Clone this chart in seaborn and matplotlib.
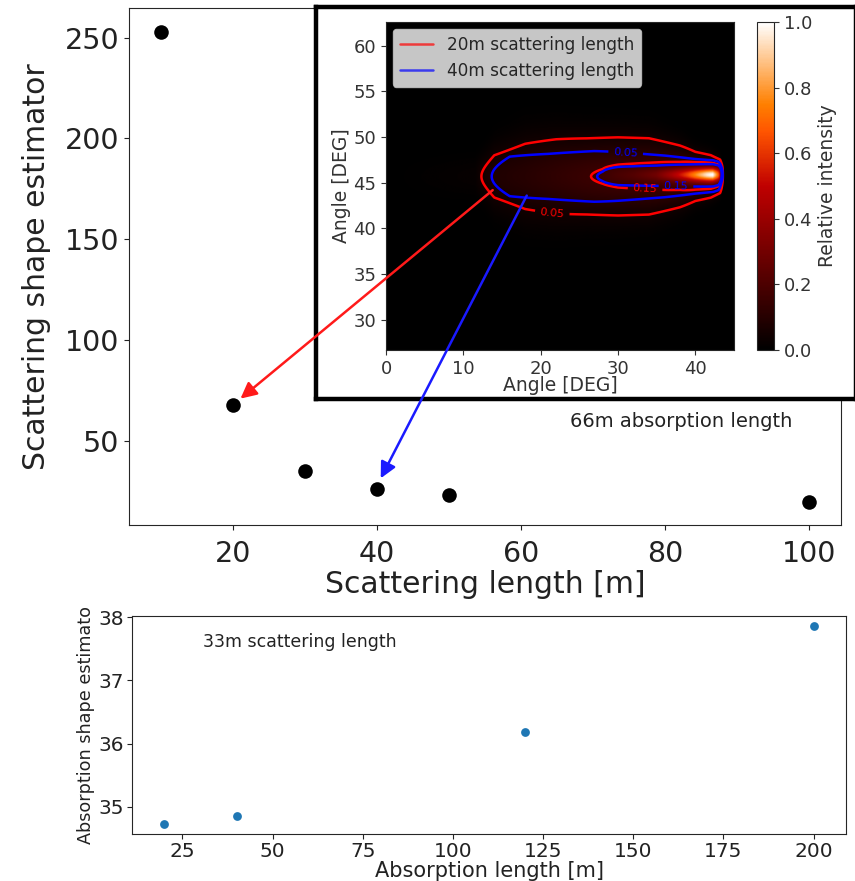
import numpy as np
import matplotlib
matplotlib.use("Agg")
import matplotlib.pyplot as plt
import seaborn as sns
from matplotlib.patches import ConnectionPatch
from matplotlib.lines import Line2D

# ---- data ----
scat_len = [10, 20, 30, 40, 50, 100]
scat_shape = [253, 68, 35, 26, 23, 20]

abs_len = [20, 40, 120, 200]
abs_shape = [34.73, 34.85, 36.18, 37.86]

# inset: angular intensity maps, described by halo amplitude / width along x
halo20_x = [0, 11.5, 12.3, 14, 18, 22, 26, 30, 34, 38, 40, 42, 43.2, 43.6, 45]
halo20_amp = [0, 0.02, 0.05, 0.084, 0.103, 0.127, 0.15, 0.167, 0.174, 0.195, 0.233, 0.25, 0.2, 0.0, 0.0]
halo20_sig = [1.5, 1.5, 1.6, 2.3, 3.0, 3.0, 2.83, 2.77, 2.66, 2.06, 1.54, 1.3, 1.1, 1.0, 1.0]
halo20_yc = 45.7

halo40_x = [0, 13.0, 13.6, 16, 21, 26.9, 30, 36, 40, 42.3, 43.0, 43.4, 45]
halo40_amp = [0, 0.025, 0.05, 0.092, 0.119, 0.15, 0.178, 0.193, 0.227, 0.25, 0.2, 0.0, 0.0]
halo40_sig = [1.5, 1.5, 1.6, 2.0, 1.9, 1.89, 1.69, 1.40, 1.09, 0.95, 0.9, 0.9, 0.9]
halo40_yc = 45.7

core_x = [0, 28, 32, 35, 37, 39, 40.5, 41.5, 42.3, 43.0, 43.6, 45]
core_amp = [0, 0, 0.05, 0.12, 0.25, 0.42, 0.6, 0.72, 0.78, 0.5, 0.0, 0.0]
core_sig = 0.5
core_yc = 45.9

levels = [0.05, 0.15]
legend_labels = ["20m scattering length", "40m scattering length"]

sns.set_style("ticks")
plt.rcParams['font.family'] = ['DejaVu Sans']

fig = plt.figure(figsize=(8.55, 8.81), dpi=100)
W, H = 855.0, 881.0

def fax(l, t, r, b, **kw):
    return fig.add_axes([l / W, 1 - b / H, (r - l) / W, (b - t) / H], **kw)

# ---- main axes ----
ax_main = fax(129, 8, 841, 525)
sns.scatterplot(x=scat_len, y=scat_shape, color='black', s=110, linewidth=0, ax=ax_main, zorder=3)
ax_main.set_xticks([20, 40, 60, 80, 100])
ax_main.set_yticks([50, 100, 150, 200, 250])
ax_main.tick_params(labelsize=20.5, colors='#222222')
ax_main.tick_params(axis='x', pad=7)
ax_main.set_xlabel("Scattering length [m]", fontsize=21.5, color='#222222', labelpad=2)
ax_main.set_ylabel("Scattering shape estimator", fontsize=21.5, color='#222222', labelpad=10)
ax_main.text(82.3, 59.5, "66m absorption length", ha='center', va='center', fontsize=14, color='#222222')

# ---- bottom axes ----
ax_bot = fax(132, 616, 846, 834)
sns.scatterplot(x=abs_len, y=abs_shape, color='#1f77b4', s=40, linewidth=0, ax=ax_bot)
ax_bot.set_xticks([25, 50, 75, 100, 125, 150, 175, 200])
ax_bot.set_yticks([35, 36, 37, 38])
ax_bot.tick_params(labelsize=14.5, colors='#222222', pad=2)
ax_bot.set_xlabel("Absorption length [m]", fontsize=15, color='#222222', labelpad=0)
ax_bot.set_ylabel("Absorption shape estimato", fontsize=12.7, color='#222222', labelpad=3)
ax_bot.text(30.6, 37.6, "33m scattering length", ha='left', va='center', fontsize=12.5, color='#222222')

# ---- inset frame ----
ax_frame = fax(316, 7, 856, 399, zorder=4)
ax_frame.set_facecolor('white')
ax_frame.set_xticks([]); ax_frame.set_yticks([])
for sp in ax_frame.spines.values():
    sp.set_linewidth(3.2); sp.set_color('black')

# ---- inset image ----
gx = np.linspace(0, 45, 451)
gy = np.linspace(26.7, 62.6, 360)

def field(nx, amp, sig, yc):
    A = np.interp(gx, nx, amp)
    S = np.interp(gx, nx, sig)
    halo = A[None, :] * np.exp(-(gy[:, None] - yc) ** 2 / (2 * S[None, :] ** 2))
    C = np.interp(gx, core_x, core_amp)
    core = C[None, :] * np.exp(-(gy[:, None] - core_yc) ** 2 / (2 * core_sig ** 2))
    F = halo + core
    return F / F.max()

F20 = field(halo20_x, halo20_amp, halo20_sig, halo20_yc)
F40 = field(halo40_x, halo40_amp, halo40_sig, halo40_yc)

ax_img = fax(386, 22, 734, 350, zorder=5)
im = ax_img.imshow(F20, extent=[0, 45, 26.7, 62.6], origin='lower', cmap='gist_heat',
                   vmin=0, vmax=1, aspect='auto', interpolation='bilinear')
cs20 = ax_img.contour(gx, gy, F20, levels=levels, colors='red', linewidths=1.8)
cs40 = ax_img.contour(gx, gy, F40, levels=levels, colors='blue', linewidths=1.8)
ax_img.clabel(cs20, fmt='%.2f', fontsize=8, inline=True, manual=[(21.5, 41.7), (33.5, 44.3)])
ax_img.clabel(cs40, fmt='%.2f', fontsize=8, inline=True, manual=[(31.0, 48.4), (37.5, 44.7)])
ax_img.set_xlim(0, 45); ax_img.set_ylim(26.7, 62.6)
ax_img.set_xticks([0, 10, 20, 30, 40]); ax_img.set_yticks([30, 35, 40, 45, 50, 55, 60])
ax_img.tick_params(labelsize=13, colors='#333333')
ax_img.set_xlabel("Angle [DEG]", fontsize=13.5, color='#333333', labelpad=-1)
ax_img.set_ylabel("Angle [DEG]", fontsize=13.5, color='#333333', labelpad=2)
handles = [Line2D([], [], color='red', lw=1.8, alpha=0.7), Line2D([], [], color='blue', lw=1.8, alpha=0.7)]
ax_img.legend(handles, legend_labels, loc='upper left', fontsize=12.2, framealpha=0.78,
              facecolor='white', edgecolor='#cccccc', borderaxespad=0.4)

cax = fax(757, 22, 774, 350, zorder=5)
cb = fig.colorbar(im, cax=cax)
cb.set_ticks([0, 0.2, 0.4, 0.6, 0.8, 1.0])
cax.tick_params(labelsize=13, colors='#333333')
cax.set_ylabel("Relative intensity", fontsize=13.5, color='#333333')

# ---- arrows ----
con_r = ConnectionPatch(xyA=(13.8, 44.2), coordsA=ax_img.transData, xyB=(21.0, 71.0),
                        coordsB=ax_main.transData, arrowstyle='-|>', mutation_scale=24,
                        color='#ff1a1a', lw=1.8, zorder=20, shrinkA=0, shrinkB=0)
con_b = ConnectionPatch(xyA=(18.2, 43.6), coordsA=ax_img.transData, xyB=(40.5, 31.5),
                        coordsB=ax_main.transData, arrowstyle='-|>', mutation_scale=24,
                        color='#1a1aff', lw=1.8, zorder=20, shrinkA=0, shrinkB=0)
fig.add_artist(con_r)
fig.add_artist(con_b)

fig.savefig("out.png", dpi=100)
